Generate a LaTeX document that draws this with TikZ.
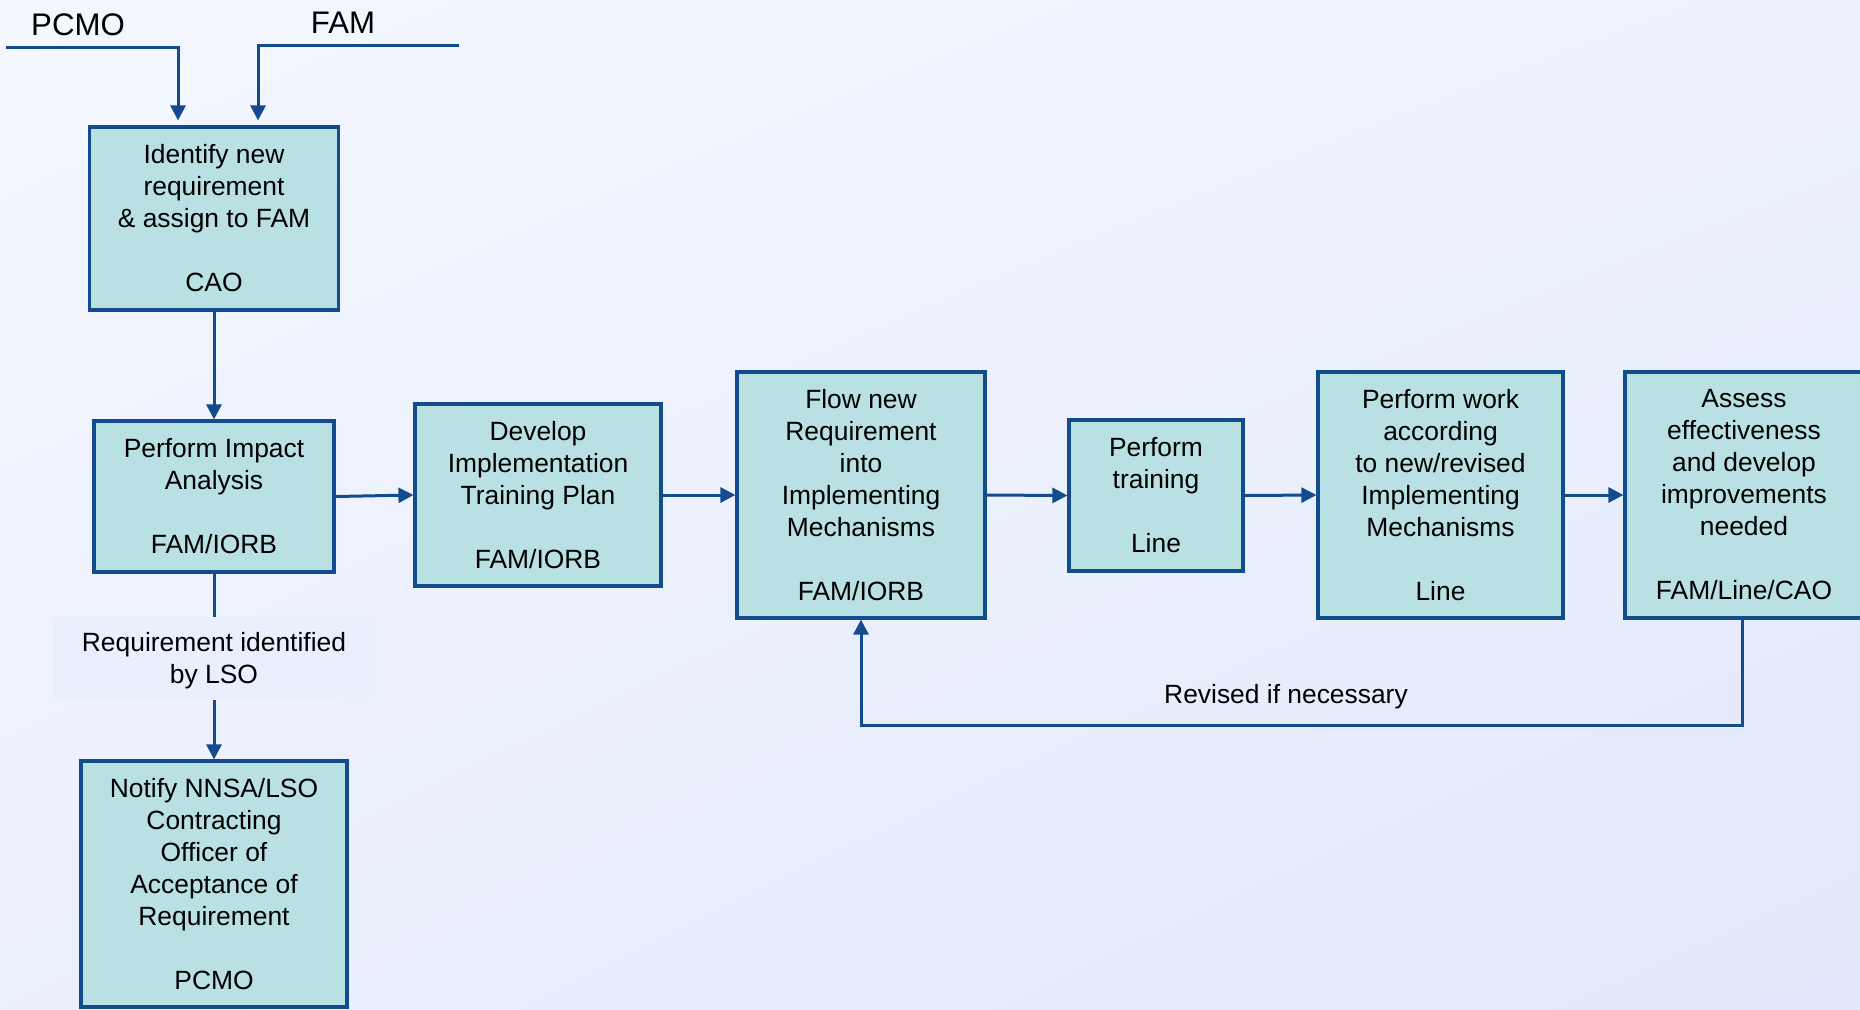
\documentclass[tikz,border=0pt]{standalone}
\usepackage{fontspec}
\setmainfont{Liberation Sans}
\usetikzlibrary{arrows.meta,shadings}

\definecolor{bgA}{HTML}{F4F7FE}
\definecolor{bgB}{HTML}{E2E8FB}
\definecolor{boxfill}{HTML}{B9E0E3}
\definecolor{edge}{HTML}{124C8C}
\definecolor{labelfill}{HTML}{E9EFFC}

\begin{document}
\begin{tikzpicture}[x=0.5pt, y=-0.5pt,
  txt/.style={font=\fontsize{13.2pt}{16pt}\selectfont, align=center, text=black},
  proc/.style={txt, draw=edge, fill=boxfill, line width=1.6pt, inner sep=0pt},
  note/.style={txt, fill=labelfill, inner sep=0pt},
  inlabel/.style={font=\fontsize{15.6pt}{18pt}\selectfont, text=black, inner sep=0pt},
  conn/.style={draw=edge, line width=1.5pt, -{Triangle[length=7.5pt,width=7.5pt]}},
  plain/.style={draw=edge, line width=1.5pt}
]
% page background
\useasboundingbox (0,0) rectangle (1860,1009);
\shade[upper left=bgA, upper right=bgA!60!bgB, lower left=bgA!50!bgB, lower right=bgB]
  (0,0) rectangle (1860,1009);

% process boxes
\node[proc, minimum width=124.5pt, minimum height=91.5pt] (identify) at (214,218.5)
  {Identify new\\requirement\\\& assign to FAM\\[16pt]CAO};
\node[proc, minimum width=120pt, minimum height=75.5pt] (impact) at (214,496.5)
  {Perform Impact\\Analysis\\[16pt]FAM/IORB};
\node[note, minimum width=160.5pt, minimum height=41.5pt] (lso) at (214,658.5)
  {\rule{0pt}{12.2pt}Requirement identified\\by LSO};
\node[proc, minimum width=133pt, minimum height=123pt] (notify) at (214,884)
  {Notify NNSA/LSO\\Contracting\\Officer of\\Acceptance of\\Requirement\\[16pt]PCMO};
\node[proc, minimum width=123pt, minimum height=91pt] (develop) at (538,495)
  {Develop\\Implementation\\Training Plan\\[16pt]FAM/IORB};
\node[proc, minimum width=124pt, minimum height=123pt] (flow) at (861,495)
  {Flow new\\Requirement\\into\\Implementing\\Mechanisms\\[16pt]FAM/IORB};
\node[proc, minimum width=87pt, minimum height=75.5pt] (training) at (1156,495.5)
  {Perform\\training\\[16pt]Line};
\node[proc, minimum width=122.5pt, minimum height=123pt] (work) at (1440.5,495)
  {Perform work\\according\\to new/revised\\Implementing\\Mechanisms\\[16pt]Line};
\node[proc, minimum width=119pt, minimum height=123pt] (assess) at (1744,495)
  {Assess\\effectiveness\\and develop\\improvements\\needed\\[16pt]FAM/Line/CAO};

% inputs
\node[inlabel] (pcmo) at (78,25) {PCMO};
\node[inlabel] (fam) at (343,23) {FAM};
\coordinate (pcmo-in) at (6,47);
\coordinate (fam-in) at (459,45);
\draw[conn, shorten >=2.5pt] (pcmo-in) -| ([xshift=-18pt]identify.north);
\draw[conn, shorten >=2.5pt] (fam-in) -| ([xshift=22pt]identify.north);

% flow connectors
\draw[conn] (identify.south) -- (impact.north);
\draw[plain] (impact.south) -- (lso.north);
\draw[conn] (lso.south) -- (notify.north);
\draw[conn] (impact.east) -- (develop.west);
\draw[conn] (develop.east) -- (flow.west);
\draw[conn] (flow.east) -- (training.west);
\draw[conn] (training.east) -- (work.west);
\draw[conn] (work.east) -- (assess.west);

% feedback loop
\draw[conn] ([xshift=-1pt]assess.south) -- ++(0,106) -| (flow.south);
\node[txt, inner sep=0pt] (revised) at (1286,696.5) {Revised if necessary};
\end{tikzpicture}
\end{document}
